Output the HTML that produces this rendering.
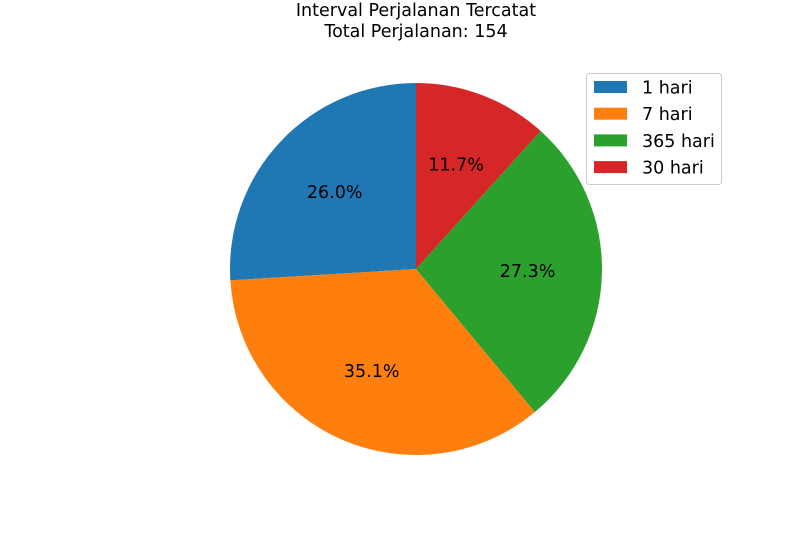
<!DOCTYPE html>
<html><head><meta charset="utf-8"><style>
body{margin:0;background:#fff;}
svg{display:block;font-family:"Liberation Sans","DejaVu Sans",sans-serif;}
</style></head><body>
<svg id="chart" width="811" height="536" viewBox="0 0 811 536">
<text x="416" y="16" text-anchor="middle" font-size="17.5" font-family="DejaVu Sans, sans-serif">Interval Perjalanan Tercatat</text>
<text x="416" y="37" text-anchor="middle" font-size="17.5" font-family="DejaVu Sans, sans-serif">Total Perjalanan: 154</text>
<g id="slices"></g>
<g id="legend"></g>
</svg>
<script>
const categories=["1 hari","7 hari","365 hari","30 hari"];
const values=[40,54,42,18];
const colors=["#1f77b4","#ff7f0e","#2ca02c","#d62728"];
const ns="http://www.w3.org/2000/svg";
const cx=416,cy=269,r=186;
const total=values.reduce((a,b)=>a+b,0);
const g=document.getElementById('slices');
let a=90;
values.forEach((v,i)=>{
  const sweep=v/total*360;
  const a0=a*Math.PI/180,a1=(a+sweep)*Math.PI/180;
  const x0=cx+r*Math.cos(a0),y0=cy-r*Math.sin(a0),x1=cx+r*Math.cos(a1),y1=cy-r*Math.sin(a1);
  const p=document.createElementNS(ns,'path');
  p.setAttribute('d',`M${cx},${cy}L${x0},${y0}A${r},${r} 0 ${sweep>180?1:0} 0 ${x1},${y1}Z`);
  p.setAttribute('fill',colors[i]);
  
  
  g.appendChild(p);
  const m=(a+sweep/2)*Math.PI/180;
  const t=document.createElementNS(ns,'text');
  t.setAttribute('x',cx+0.6*r*Math.cos(m));
  t.setAttribute('y',cy-0.6*r*Math.sin(m)+5.5);
  t.setAttribute('text-anchor','middle');
  t.setAttribute('font-size','17.5');
  t.setAttribute('font-family','DejaVu Sans, sans-serif');
  t.textContent=(v/total*100).toFixed(1)+'%';
  
  
  g.appendChild(t);
  a+=sweep;
});
const lg=document.getElementById('legend');
const box=document.createElementNS(ns,'rect');
box.setAttribute('x',586.5);box.setAttribute('y',73.5);box.setAttribute('width',135);box.setAttribute('height',111);
box.setAttribute('rx',3);box.setAttribute('fill','#fff');box.setAttribute('stroke','#ccc');


lg.appendChild(box);
categories.forEach((c,i)=>{
  const y=81+i*26.7;
  const sw=document.createElementNS(ns,'rect');
  sw.setAttribute('x',594);sw.setAttribute('y',y);sw.setAttribute('width',33);sw.setAttribute('height',12);
  sw.setAttribute('fill',colors[i]);
  
  
  lg.appendChild(sw);
  const t=document.createElementNS(ns,'text');
  t.setAttribute('x',642);t.setAttribute('y',y+12.5);t.setAttribute('font-size','17.5');
  t.setAttribute('font-family','DejaVu Sans, sans-serif');
  t.textContent=c;
  
  
  lg.appendChild(t);
});
</script>
</body></html>
